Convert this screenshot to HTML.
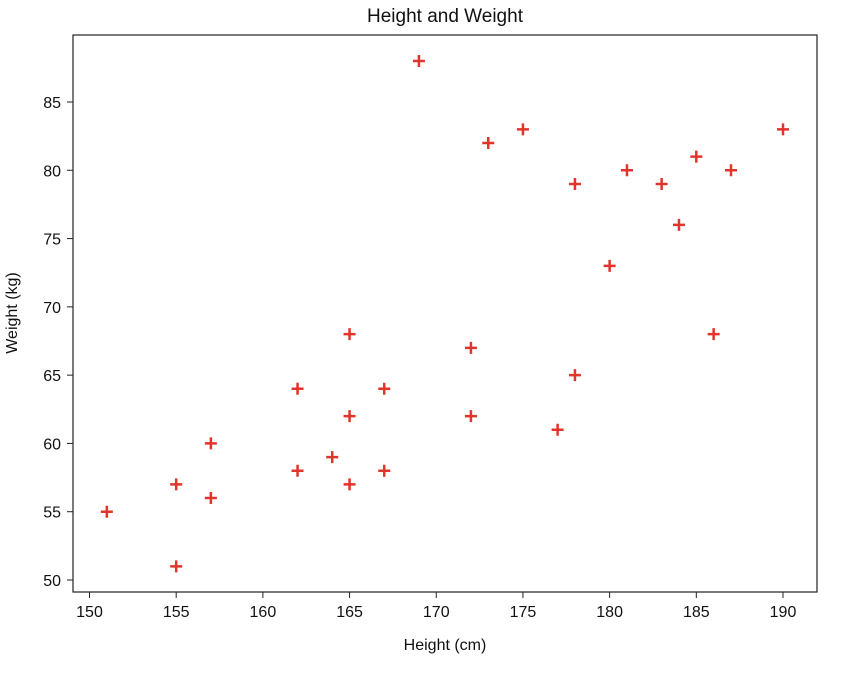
<!DOCTYPE html>
<html><head><meta charset="utf-8"><style>
body{margin:0;background:#fff;font-family:"Liberation Sans",sans-serif;}
</style></head><body>
<svg id="chart" width="854" height="674" xmlns="http://www.w3.org/2000/svg">
<text x="445" y="22" text-anchor="middle" font-size="19" fill="#111">Height and Weight</text>
<rect x="73" y="35" width="744" height="557" fill="none" stroke="#222" stroke-width="1.2"/>
<g id="xt"></g><g id="yt"></g><g id="pts"></g>
<text x="445" y="650" text-anchor="middle" font-size="16" fill="#111">Height (cm)</text>
<text transform="translate(17,313) rotate(-90)" text-anchor="middle" font-size="16" fill="#111">Weight (kg)</text>
</svg>
<script>
const heights=[151,155,155,157,157,162,162,164,165,165,165,167,167,169,172,172,173,175,177,178,178,180,181,183,184,185,186,187,190];
const weights=[55,57,51,60,56,64,58,59,68,62,57,64,58,88,67,62,82,83,61,79,65,73,80,79,76,81,68,80,83];
const xTicks=[150,155,160,165,170,175,180,185,190];
const yTicks=[50,55,60,65,70,75,80,85];
const NS="http://www.w3.org/2000/svg";
function sx(v){return 89.5+(v-150)*(693.5/40);}
function sy(v){return 580-(v-50)*(478/35);}
function mk(t,a,p){const e=document.createElementNS(NS,t);for(const k in a)e.setAttribute(k,a[k]);p.appendChild(e);return e;}
const xt=document.getElementById('xt'),yt=document.getElementById('yt'),pts=document.getElementById('pts');
xTicks.forEach(v=>{const x=sx(v);
 const l=mk('line',{x1:x,x2:x,y1:592,y2:598,stroke:'#222'},xt);
 
 
 const t=mk('text',{x:x,y:617,'text-anchor':'middle','font-size':'16',fill:'#111'},xt);t.textContent=v;
 
 });
yTicks.forEach(v=>{const y=sy(v);
 const l=mk('line',{x1:67,x2:73,y1:y,y2:y,stroke:'#222'},yt);
 
 
 const t=mk('text',{x:61,y:y+6,'text-anchor':'end','font-size':'16',fill:'#111'},yt);t.textContent=v;
 
 });
heights.forEach((h,i)=>{const x=sx(h),y=sy(weights[i]);
 const g=mk('path',{d:`M${x-6} ${y}H${x+6}M${x} ${y-6}V${y+6}`,stroke:'#e0352a','stroke-width':'2.5'},pts);
 
 });
</script>
</body></html>
